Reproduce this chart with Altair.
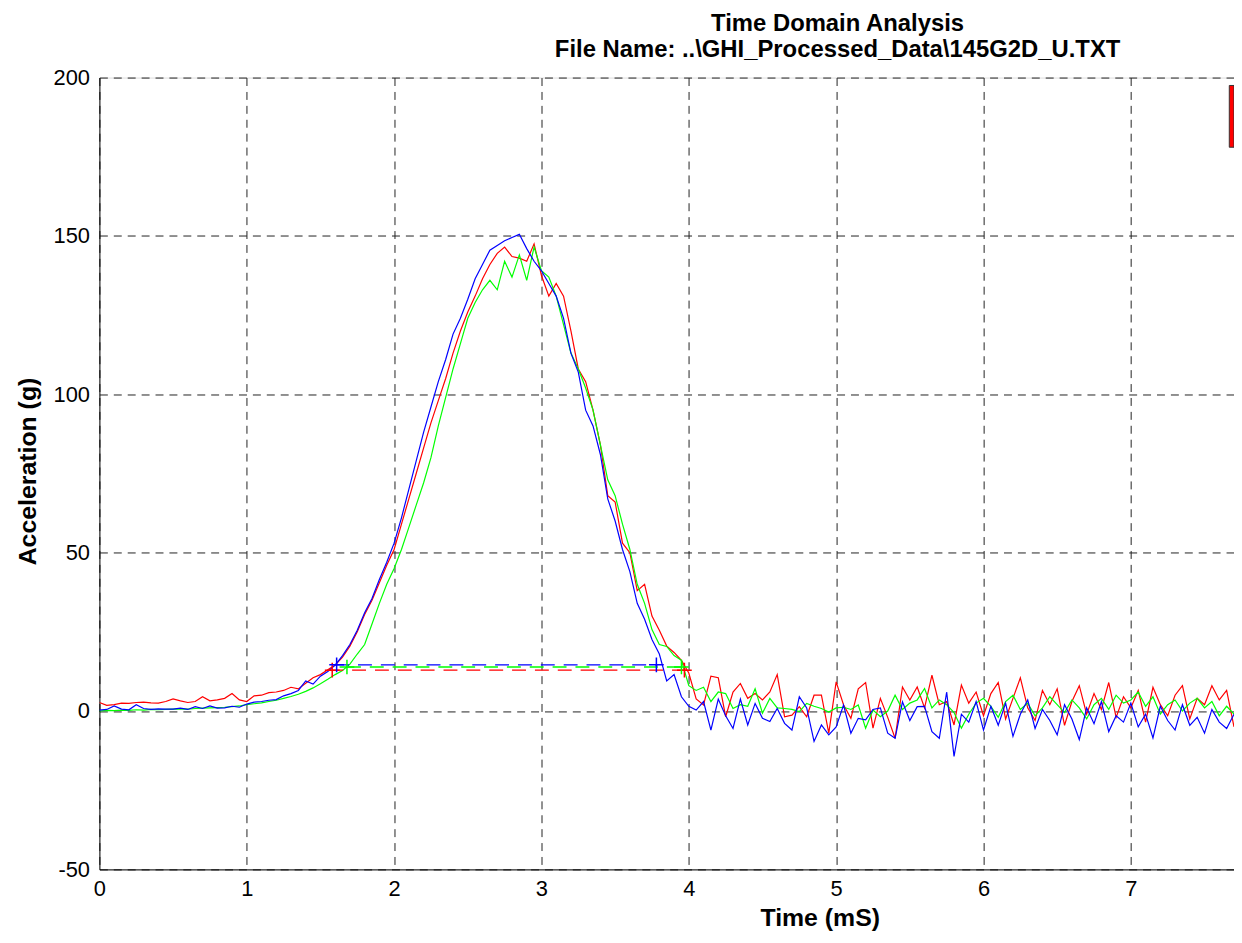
import altair as alt
import pandas as pd

T_STEP = 0.05
N = 155
times = [round(i * T_STEP, 2) for i in range(N)]

red_vals = [
    2.7, 1.8, 2.0, 2.5, 2.4, 2.7, 2.8, 2.6, 2.5, 3.0,
    3.8, 3.2, 2.7, 3.0, 4.5, 3.2, 3.5, 4.0, 5.5, 3.5,
    3.0, 4.8, 5.0, 5.8, 6.0, 6.5, 7.5, 7.0, 8.8, 10.5,
    11.5, 13.0, 14.5, 17.0, 20.5, 25.0, 30.5, 35.0, 40.5, 46.0,
    51, 59, 67, 75, 83, 91, 98, 105, 113, 120,
    126, 131, 136.5, 141, 144.5, 146.5, 143.5, 143, 142, 147.5,
    137.5, 131, 135, 131, 120, 108, 104, 95, 84, 68,
    66, 53, 50, 38, 40, 30, 25.5, 20.5, 18.5, 16,
    12, 3.8, 1.9, 11.0, 10.5, -1.8, 6.0, 8.7, 4.0, 5.5,
    3.5, 6.0, 11.5, -1.8, -1.3, 1.4, -1.8, 5.0, 5.0, -7.0,
    9.2, 2.0, -2.3, 7.0, 9.0, -5.4, 4.0, -2.0, -8.6, 7.6,
    3.5, 7.6, 1.0, 11.3, 2.0, 3.0, -4.4, 8.2, 2.5, 6.0,
    -1.5, 5.5, 9.0, -2.5, 4.0, 10.5, 1.0, -3.0, 6.5, 2.0,
    7.0, -4.5, 3.0, 8.0, -1.0, 5.5, 0.5, 9.0, -2.0, 4.5,
    1.0, 6.5, -3.5, 7.5, 2.0, -1.5, 5.0, 8.0, -2.5, 4.0,
    2.0, 8.0, 3.5, 6.5, -5.0,
]

green_vals = [
    0.0, 0.2, 0.1, 0.3, 0.2, 0.4, 0.3, 0.5, 0.4, 0.5,
    0.6, 0.7, 0.6, 0.8, 0.9, 1.0, 1.1, 1.2, 1.4, 1.6,
    2.0, 2.3, 2.6, 3.0, 3.4, 4.0, 4.6, 5.3, 6.2, 7.3,
    8.6, 10.0, 11.5, 12.8, 14.8, 18.0, 21.0, 27.5, 34.0, 40.0,
    45, 51, 58, 65, 72, 80, 90, 99, 108, 116,
    124, 129, 133, 136, 133, 142, 137, 144, 136, 146.5,
    139, 137, 131, 122, 113, 108, 102, 95, 84, 73,
    68, 59, 51, 40, 34, 25.7, 21, 20.4, 17.5, 16,
    8.0, 6.5, 7.5, 3.0, 6.0, 5.5, 0.8, 2.0, 1.5, 7.0,
    -0.7, 4.0, 1.0, 0.8, 0.5, -0.2, 2.4, 1.5, 0.8, -0.3,
    1.0, 1.2, 0.5, 1.9, -5.4, 0.3, -1.8, 0.0, 5.0, 0.5,
    2.5, 3.5, 7.1, 1.0, 3.5, 2.0, -0.5, -5.4, -1.0, 2.5,
    4.0, 1.5, -2.0, 3.0, 5.0, 0.5, 2.5, -1.5, 1.0, 4.5,
    2.0, -0.5, 3.5, 1.0, -2.5, 2.0, 4.0, 0.5, 5.0, 2.5,
    3.5, 6.0, 1.5, 4.5, -1.0, 2.0, 3.5, 0.0, 2.5, 4.0,
    1.0, 3.0, -1.5, 1.5, -1.0,
]

blue_vals = [
    0.3, 0.5, 1.6, 0.6, 0.4, 2.0, 0.8, 0.5, 0.7, 0.6,
    0.6, 0.9, 0.5, 1.4, 0.8, 1.6, 0.9, 1.0, 1.5, 1.2,
    2.2, 2.8, 3.0, 3.4, 3.6, 4.8, 5.5, 6.5, 9.5, 8.5,
    11.0, 12.5, 14.5, 17.5, 21.0, 25.5, 31.0, 35.5, 41.5, 47.0,
    53, 61, 70, 79, 88, 96, 104, 111, 119, 124,
    130, 136.5, 141, 145.5, 147, 148.5, 149.5, 150.5, 146, 142,
    139, 135, 131, 124, 113, 107, 95, 90, 81, 67,
    60, 51, 44, 34, 29, 22.6, 18, 9.5, 11.5, 4.5,
    1.5, 0.3, 3.0, -6.0, 3.8, -1.5, -5.5, 3.8, -4.4, 2.4,
    -2.3, -3.3, 0.8, -3.9, -6.0, 4.5, 1.0, -9.6, -4.4, -7.5,
    -5.0, 1.9, -7.0, -2.3, -2.8, 0.5, 1.0, -7.0, -8.6, 2.9,
    -3.0, 1.4, 1.5, -6.5, -8.6, 6.0, -14.3, -1.0, -3.5, 3.0,
    -6.0, 1.5, -4.5, 2.5, -8.0, -1.0, 3.5, -5.5, 0.5, -3.0,
    -7.5, 2.0, -2.5, -9.0, 1.0, -4.0, 3.0, -6.5, -1.5, -3.5,
    2.5, -5.0, -1.0, -8.5, 1.5, -3.0, -6.0, 2.0, -4.5, -2.0,
    -7.0, 0.5, -3.5, -5.5, -1.0,
]

series_names = ["red", "green", "blue"]
series_colors = ["#ff0000", "#00ff00", "#0000ff"]

# pulse-width level lines (start time, end time, level)
level_start = [1.56, 1.68, 1.60]
level_end = [4.01, 3.95, 3.79]
level_value = [12.9, 13.9, 14.6]
marker_start = [1.58, 1.68, 1.61]
marker_end = [3.97, 3.95, 3.78]

# partly visible legend box at the right edge
legend_x = [7.668, 7.70]
legend_y = [178.0, 197.5]

x_ticks = [0, 1, 2, 3, 4, 5, 6, 7]
y_ticks = [-50, 0, 50, 100, 150, 200]

# ---- build tables ----
rows = []
for name, vals in zip(series_names, [red_vals, green_vals, blue_vals]):
    for t, v in zip(times, vals):
        rows.append({"t": t, "v": v, "series": name})
curves = pd.DataFrame(rows)

levels = pd.DataFrame({"series": series_names, "t0": level_start,
                       "t1": level_end, "lv": level_value})
mk = []
for name, a, b, lv in zip(series_names, marker_start, marker_end, level_value):
    mk.append({"series": name, "t": a, "lv": lv})
    mk.append({"series": name, "t": b, "lv": lv})
markers = pd.DataFrame(mk)
legend_df = pd.DataFrame({"x0": [legend_x[0]], "x1": [legend_x[1]],
                          "y0": [legend_y[0]], "y1": [legend_y[1]]})

FONT = "Liberation Sans"
color_scale = alt.Scale(domain=series_names, range=series_colors)

x_scale = alt.Scale(domain=[0, 7.7], nice=False, zero=False)
y_scale = alt.Scale(domain=[-50, 200], nice=False, zero=False)

x_axis = alt.Axis(values=x_ticks, labelExpr="'' + datum.value",
                  title="Time (mS)", grid=True,
                  gridDash=[8, 6], gridColor="#222222", gridOpacity=1,
                  ticks=False, labelFont=FONT, labelFontSize=22,
                  labelColor="black", labelPadding=9, labelOverlap=False,
                  labelFlush=False,
                  domainColor="black", titleFont=FONT, titleFontSize=25,
                  titleFontWeight="bold", titleColor="black", titleX=725,
                  titleY=48, titleBaseline="middle", titleAlign="center")
y_axis = alt.Axis(values=y_ticks, labelExpr="'' + datum.value",
                  title="Acceleration (g)",
                  grid=True, gridDash=[8, 6], gridColor="#222222",
                  gridOpacity=1, ticks=False, labelFont=FONT, labelFontSize=22,
                  labelColor="black", labelPadding=10, labelOverlap=False,
                  labelFlush=False,
                  domainColor="black", titleFont=FONT, titleFontSize=25,
                  titleFontWeight="bold", titleColor="black", titleX=-72,
                  titleY=396, titleAngle=270, titleBaseline="middle",
                  titleAlign="center")

lines = alt.Chart(curves).mark_line(strokeWidth=1.2, clip=True).encode(
    x=alt.X("t:Q", scale=x_scale, axis=x_axis),
    y=alt.Y("v:Q", scale=y_scale, axis=y_axis),
    color=alt.Color("series:N", scale=color_scale, legend=None),
    detail="series:N",
)

level_rules = alt.Chart(levels).mark_rule(strokeWidth=1.3, strokeDash=[14, 9],
                                          clip=True).encode(
    x="t0:Q", x2="t1:Q", y="lv:Q",
    color=alt.Color("series:N", scale=color_scale, legend=None),
)

plus = alt.Chart(markers).mark_point(
    shape="M -1 0 L 1 0 M 0 -1 L 0 1", filled=False, size=220,
    strokeWidth=1.5, opacity=1, clip=True).encode(
    x="t:Q", y="lv:Q",
    color=alt.Color("series:N", scale=color_scale, legend=None),
)

legend_box = alt.Chart(legend_df).mark_rect(
    color="#ff0000", stroke="#333333", strokeWidth=1, clip=True).encode(
    x="x0:Q", x2="x1:Q", y="y0:Q", y2="y1:Q")

chart = alt.layer(lines, level_rules, plus, legend_box).properties(
    width=1142, height=797,
    title=alt.TitleParams(
        text=["Time Domain Analysis",
              r"File Name: ..\GHI_Processed_Data\145G2D_U.TXT"],
        font=FONT, fontSize=24, fontWeight="bold", color="black",
        lineHeight=26, anchor="middle", dx=172, offset=5,
        baseline="top"),
    autosize=alt.AutoSizeParams(type="none"),
    padding={"left": 92, "top": 67, "right": 0, "bottom": 61},
).configure_view(strokeWidth=0).configure(background="white")

chart.save("out.html", embed_options={"renderer": "svg", "actions": False})
